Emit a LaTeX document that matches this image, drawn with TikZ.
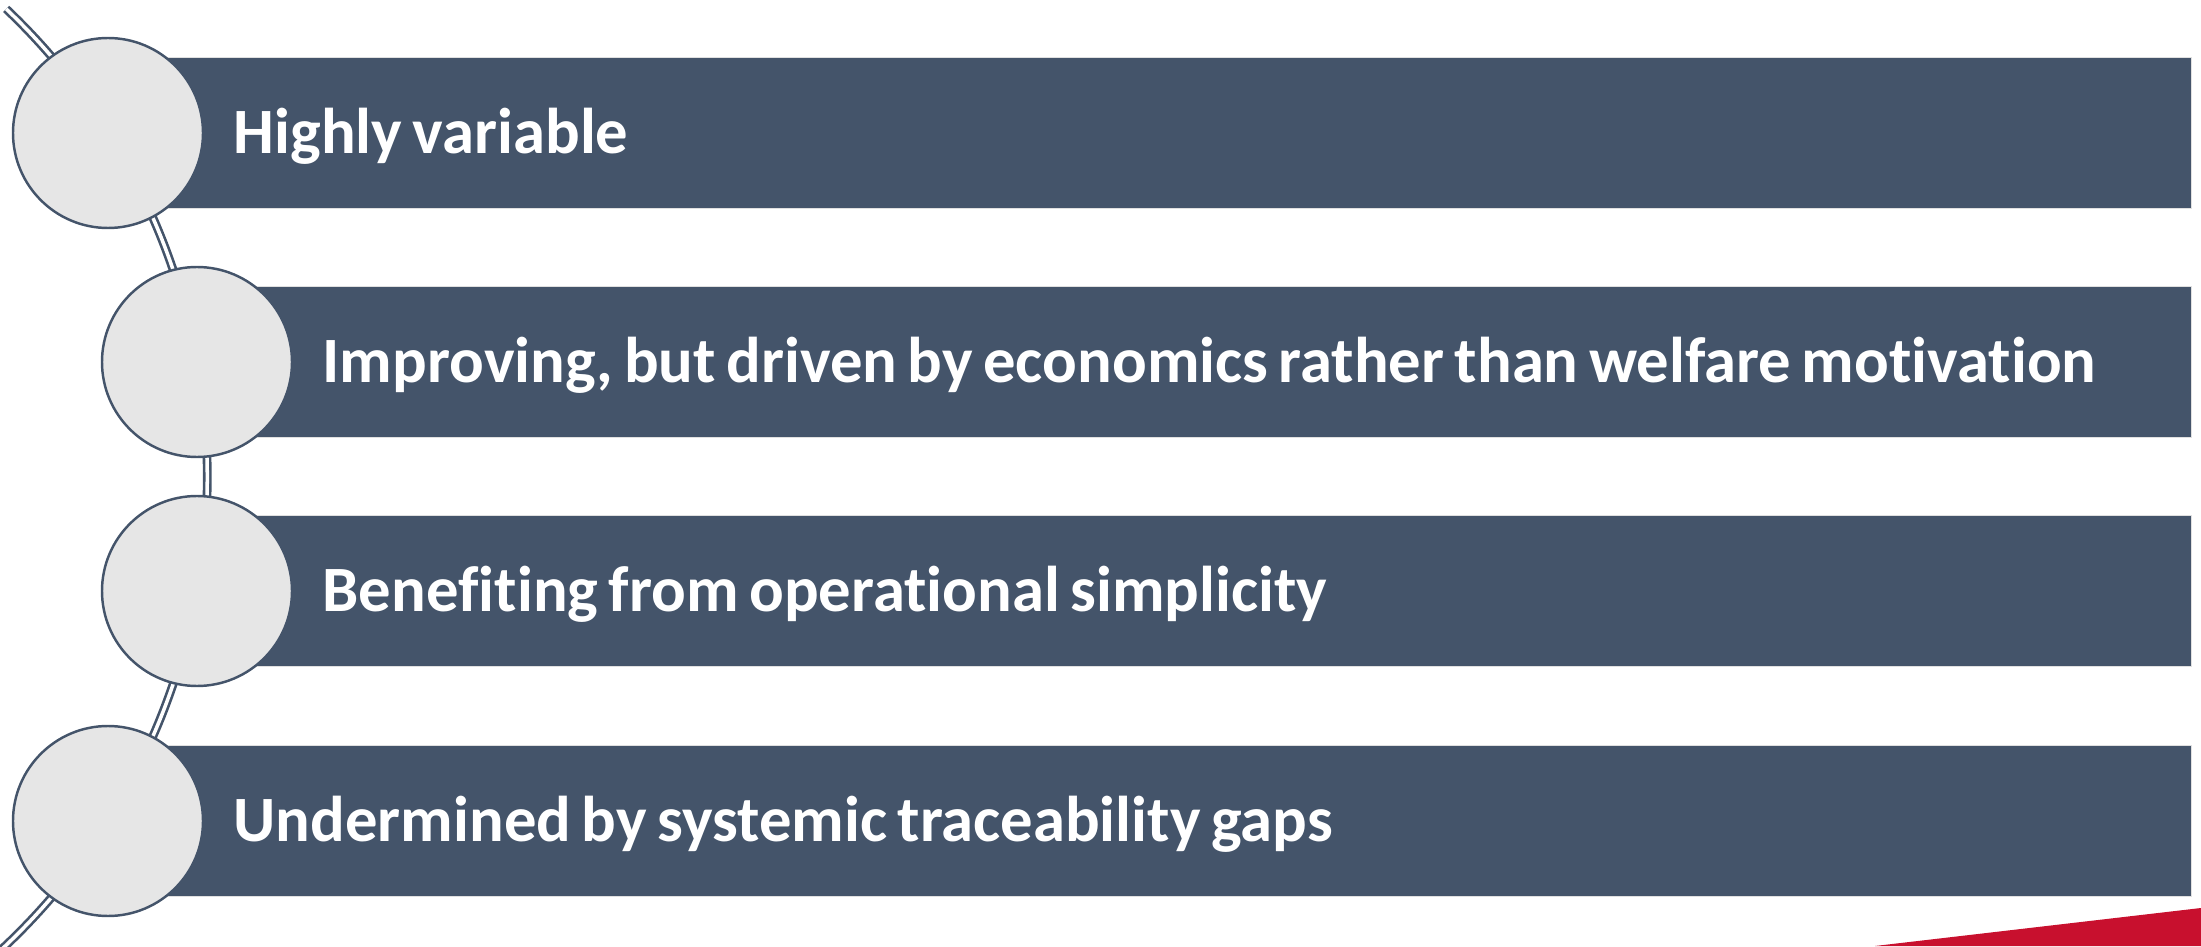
\documentclass[tikz,border=0pt]{standalone}
\usepackage{fontspec}
\setmainfont{Carlito}[Ligatures=NoCommon, WordSpace=0.72]
\definecolor{slate}{HTML}{44546A}
\definecolor{pebble}{HTML}{E6E6E6}
\definecolor{crimson}{HTML}{C8102E}
\begin{document}
\begin{tikzpicture}[
  rail/.style={draw=slate, double=white, line width=0.75pt, double distance=1pt},
  bar/.style={anchor=west, fill=slate, draw=black!12, line width=0.4pt, minimum height=1.51cm},
  caption/.style={anchor=west, inner sep=0pt, text=white, text height=11.9pt, text depth=0pt, font=\fontsize{18.4}{22}\selectfont\bfseries},
  dot/.style={circle, fill=pebble, draw=slate, line width=0.7pt, minimum size=1.9cm, inner sep=0pt}
]
\useasboundingbox (0,0) rectangle (22.01,9.46);
\coordinate (hub) at (-4.38,4.69);
\draw[rail] (hub) ++(46.5:6.453) arc[start angle=46.5, end angle=-47, radius=6.453];
\node[bar, minimum width=20.83cm] (b1) at (1.08,8.13) {};
\node[bar, minimum width=19.94cm] (b2) at (1.97,5.84) {};
\node[bar, minimum width=19.94cm] (b3) at (1.97,3.55) {};
\node[bar, minimum width=20.83cm] (b4) at (1.08,1.25) {};
\node[dot] (c1) at (b1.west) {};
\node[dot] (c2) at (b2.west) {};
\node[dot] (c3) at (b3.west) {};
\node[dot] (c4) at (b4.west) {};
\node[caption] (t1) at ([xshift=1.25cm]b1.west) {Highly variable};
\node[caption] (t2) at ([xshift=1.25cm]b2.west) {Improving, but driven by economics rather than welfare motivation};
\node[caption] (t3) at ([xshift=1.25cm]b3.west) {Benefiting from operational simplicity};
\node[caption] (t4) at ([xshift=1.25cm]b4.west) {Undermined by systemic traceability gaps};
\fill[crimson] (18.75,0) -- (22.01,0.38) -- (22.01,0) -- cycle;
\end{tikzpicture}
\end{document}
